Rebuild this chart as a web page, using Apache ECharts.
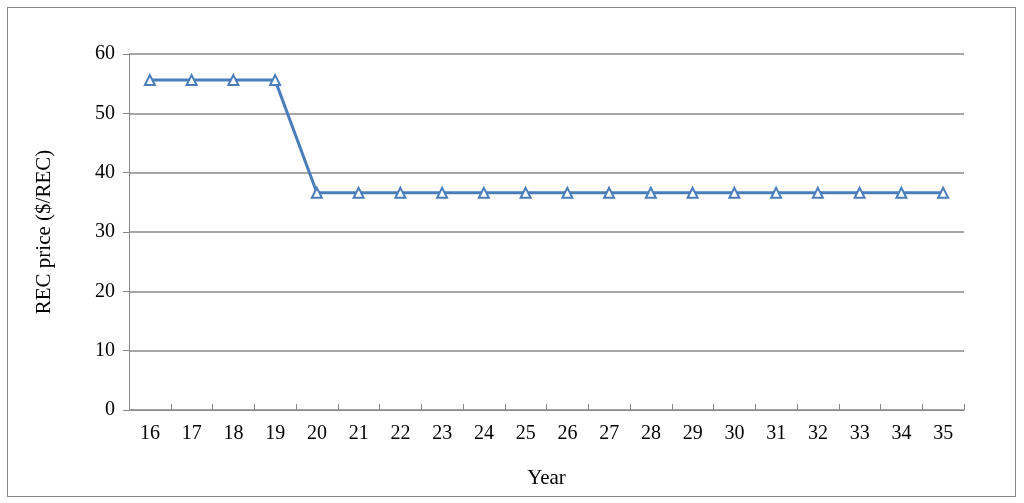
<!DOCTYPE html>
<html>
<head>
<meta charset="utf-8">
<script src="https://cdn.jsdelivr.net/npm/echarts@6/dist/echarts.min.js"></script>
<style>
  body { margin: 0; background: #fff; }
  #frame { position: absolute; left: 7px; top: 7px; width: 1007px; height: 488px; border: 1px solid #888; }
  #main { width: 1024px; height: 503px; }
</style>
</head>
<body>
<div id="frame"></div>
<div id="main"></div>
<script>
var years = ['16','17','18','19','20','21','22','23','24','25','26','27','28','29','30','31','32','33','34','35'];
var recPrice = [55.6,55.6,55.6,55.6,36.6,36.6,36.6,36.6,36.6,36.6,36.6,36.6,36.6,36.6,36.6,36.6,36.6,36.6,36.6,36.6];

var chart = echarts.init(document.getElementById('main'));
var font = 'Liberation Serif';
chart.setOption({
  animation: false,
  grid: { left: 129, right: 60, top: 54, bottom: 93 },
  xAxis: {
    type: 'category',
    data: years,
    boundaryGap: true,
    name: 'Year',
    nameLocation: 'middle',
    nameGap: 58,
    nameTextStyle: { fontFamily: font, fontSize: 21, color: '#000' },
    axisLine: { lineStyle: { color: '#888' } },
    axisTick: { show: true, length: 6, inside: true, lineStyle: { color: '#888' } },
    axisLabel: { fontFamily: font, fontSize: 20, color: '#000', margin: 14 }
  },
  yAxis: {
    type: 'value',
    min: 0, max: 60, interval: 10,
    name: 'REC price ($/REC)',
    nameLocation: 'middle',
    nameGap: 74,
    nameTextStyle: { fontFamily: font, fontSize: 21, color: '#000' },
    axisLine: { show: true, lineStyle: { color: '#888' } },
    axisTick: { show: true, length: 6, lineStyle: { color: '#888' } },
    axisLabel: { fontFamily: font, fontSize: 20, color: '#000', margin: 14 },
    splitLine: { lineStyle: { color: '#888', width: 1.5 } }
  },
  series: [{
    type: 'line',
    data: recPrice,
    symbol: 'triangle',
    symbolSize: 10,
    lineStyle: { color: '#4a7ebb', width: 3 },
    itemStyle: { color: '#fff', borderColor: '#4a7ebb', borderWidth: 2 }
  }]
});
</script>
</body>
</html>
